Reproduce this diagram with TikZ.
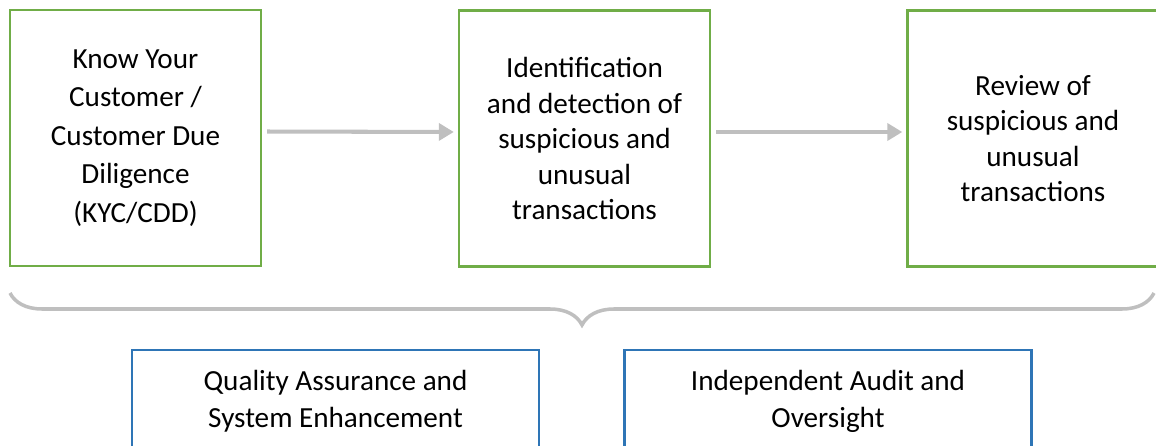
\documentclass[tikz,border=0pt]{standalone}
\usepackage{fontspec}
\setmainfont{Carlito}
\usetikzlibrary{arrows.meta,decorations.pathreplacing}
\definecolor{boxgreen}{HTML}{70AD47}
\definecolor{boxblue}{HTML}{2E75B6}
\definecolor{flowgray}{HTML}{BFBFBF}

\begin{document}
\begin{tikzpicture}[x=0.02cm,y=-0.02cm,
    stage/.style={draw=boxgreen,line width=1.4pt,minimum width=5.02cm,minimum height=5.12cm,
      inner sep=0pt,align=center,font=\fontsize{16.6}{20.2}\selectfont},
    control/.style={draw=boxblue,line width=1.2pt,minimum width=8.14cm,minimum height=2.04cm,
      inner sep=0pt,align=center,font=\fontsize{16.6}{21}\selectfont},
    flow/.style={draw=flowgray,line width=2.3pt,-{Triangle[length=0.3cm,width=0.34cm]},
      shorten <=0.1cm,shorten >=0.08cm}]
  \path[use as bounding box,clip] (0,0) rectangle (1156,446);

  \node[stage,font=\fontsize{16.6}{22}\selectfont] (kyc) at (135.5,138)
    {Know Your\\Customer /\\Customer Due\\Diligence\\(KYC/CDD)};
  \node[stage] (detect) at (584.5,138.5)
    {Identification\\and detection of\\suspicious and\\unusual\\transactions};
  \node[stage] (review) at (1033,138.5)
    {Review of\\suspicious and\\unusual\\transactions};

  \node[control] (qa) at (335.5,401) {Quality Assurance and\\System Enhancement};
  \node[control] (audit) at (828,401) {Independent Audit and\\Oversight};

  \draw[flow] ([yshift=0.13cm]kyc.east) -- ([yshift=0.13cm]detect.west);
  \draw[flow] ([yshift=0.13cm]detect.east) -- ([yshift=0.13cm]review.west);

  \coordinate (brace-l) at (10,293);
  \coordinate (brace-r) at (1154,293);
  \draw[flowgray,line width=2pt,decorate,decoration={brace,mirror,amplitude=0.64cm}]
    (brace-l) -- (brace-r);
\end{tikzpicture}
\end{document}
